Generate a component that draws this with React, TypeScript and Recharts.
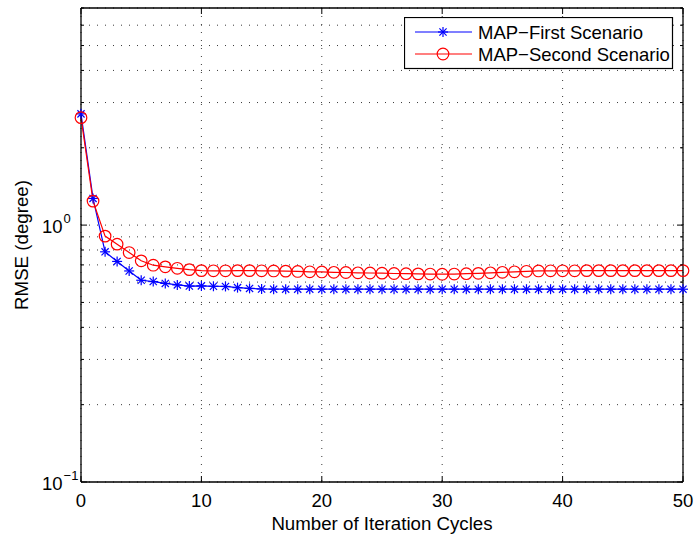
import React from "react";
import { LineChart, Line, XAxis, YAxis, CartesianGrid, Legend } from "recharts";

const FONT = "'Liberation Sans', Arial, Helvetica, sans-serif";
const BLUE = "#0000ff";
const RED = "#ff0000";
const GRID = "#3a3a3a";

// iteration index on the x axis
const cycles = [
  0, 1, 2, 3, 4, 5, 6, 7, 8, 9, 10, 11, 12, 13, 14, 15, 16, 17, 18, 19, 20, 21, 22, 23, 24, 25,
  26, 27, 28, 29, 30, 31, 32, 33, 34, 35, 36, 37, 38, 39, 40, 41, 42, 43, 44, 45, 46, 47, 48, 49, 50,
];

// RMSE (degree)
const firstScenario = [
  2.71, 1.27, 0.787, 0.722, 0.663, 0.61, 0.603, 0.593, 0.585, 0.579, 0.58, 0.578, 0.577, 0.571,
  0.567, 0.564, 0.563, 0.563, 0.563, 0.563, 0.563, 0.563, 0.563, 0.563, 0.563, 0.563, 0.563,
  0.563, 0.563, 0.563, 0.563, 0.563, 0.563, 0.563, 0.563, 0.563, 0.563, 0.563, 0.563, 0.563,
  0.563, 0.563, 0.563, 0.563, 0.563, 0.563, 0.563, 0.563, 0.563, 0.563, 0.563,
];
const secondScenario = [
  2.62, 1.24, 0.906, 0.843, 0.782, 0.726, 0.698, 0.688, 0.679, 0.671, 0.665, 0.664, 0.664, 0.665,
  0.665, 0.664, 0.663, 0.662, 0.66, 0.658, 0.657, 0.655, 0.654, 0.652, 0.651, 0.65, 0.648, 0.647,
  0.646, 0.645, 0.644, 0.645, 0.647, 0.649, 0.652, 0.655, 0.658, 0.661, 0.663, 0.664, 0.664,
  0.664, 0.665, 0.665, 0.665, 0.665, 0.665, 0.665, 0.665, 0.665, 0.665,
];

const xTicks = [0, 10, 20, 30, 40, 50];
const yTicks = [0.1, 0.2, 0.3, 0.4, 0.5, 0.6, 0.7, 0.8, 0.9, 1, 2, 3, 4, 5, 6, 7];
const yExponents: Record<string, string> = { "0.1": "\u22121", "1": "0" };

const rows = cycles.map((c, i) => ({ cycle: c, first: firstScenario[i], second: secondScenario[i] }));

const isMajor = (v: number) => yExponents[String(v)] !== undefined;

const LeftTick = ({ x, y, payload }: any) => {
  const exp = yExponents[String(payload.value)];
  return (
    <g>
      <line x1={x} x2={x + (exp ? 6 : 3)} y1={y} y2={y} stroke="#000" />
      {exp && (
        <text x={x - 39} y={y + 7.5} fontSize={18.5} fontFamily={FONT} fill="#000">
          10
          <tspan dx={1} dy={-10} fontSize={13}>
            {exp}
          </tspan>
        </text>
      )}
    </g>
  );
};

const RightTick = ({ x, y, payload }: any) => (
  <line x1={x} x2={x - (isMajor(payload.value) ? 6 : 3)} y1={y} y2={y} stroke="#000" />
);

const BottomTick = ({ x, y, payload }: any) => (
  <g>
    <line x1={x} x2={x} y1={y} y2={y - 6} stroke="#000" />
    <text x={x} y={y + 25} textAnchor="middle" fontSize={18.5} fontFamily={FONT} fill="#000">
      {payload.value}
    </text>
  </g>
);

const TopTick = ({ x, y }: any) => <line x1={x} x2={x} y1={y} y2={y + 6} stroke="#000" />;

const Star = ({ cx, cy, color }: { cx: number; cy: number; color: string }) => {
  const r = 5;
  const d = r * 0.72;
  return (
    <g stroke={color} strokeWidth={1.2}>
      <line x1={cx - r} x2={cx + r} y1={cy} y2={cy} />
      <line x1={cx} x2={cx} y1={cy - r} y2={cy + r} />
      <line x1={cx - d} x2={cx + d} y1={cy - d} y2={cy + d} />
      <line x1={cx - d} x2={cx + d} y1={cy + d} y2={cy - d} />
    </g>
  );
};

const Ring = ({ cx, cy, color }: { cx: number; cy: number; color: string }) => (
  <circle cx={cx} cy={cy} r={5.8} fill="none" stroke={color} strokeWidth={1.2} />
);

const LegendBox = ({ payload }: any) => {
  const items = (payload || []).filter((p: any) => p.type !== "none");
  return (
    <svg width={270} height={53} style={{ display: "block" }}>
      <rect x={0.5} y={0.5} width={268} height={51} fill="#fff" stroke="#000" strokeWidth={1.2} />
      {items.map((p: any, i: number) => {
        const cy = 15 + i * 22;
        const star = p.dataKey === "first";
        return (
          <g key={p.dataKey}>
            <line x1={11} x2={68} y1={cy} y2={cy} stroke={p.color} strokeWidth={1.2} />
            {star ? <Star cx={39} cy={cy} color={p.color} /> : <Ring cx={39} cy={cy} color={p.color} />}
            <text x={74} y={cy + 6.5} fontSize={18.5} fontFamily={FONT} fill="#000">
              {p.value}
            </text>
          </g>
        );
      })}
    </svg>
  );
};

export default function App() {
  return (
    <div style={{ position: "absolute", left: 0, top: 0, background: "#fff" }}>
      <LineChart
        width={696}
        height={535}
        data={rows}
        margin={{ top: 7, right: 12, bottom: 0, left: 0 }}
        style={{ fontFamily: FONT }}
      >
        <CartesianGrid
          xAxisId="b"
          yAxisId="l"
          stroke={GRID}
          strokeDasharray="1 7"
          strokeWidth={1}
        />
        <XAxis
          xAxisId="b"
          dataKey="cycle"
          type="number"
          domain={[0, 50]}
          ticks={xTicks}
          height={53}
          tickSize={0}
          tickMargin={0}
          tickLine={false}
          axisLine={{ stroke: "#000", strokeWidth: 1.3 }}
          tick={<BottomTick />}
          interval={0}
          label={{
            value: "Number of Iteration Cycles",
            position: "insideBottom",
            offset: 5,
            style: { fontSize: 18.7, fill: "#000", fontFamily: FONT },
          }}
        />
        <XAxis
          xAxisId="t"
          orientation="top"
          dataKey="cycle"
          type="number"
          domain={[0, 50]}
          ticks={xTicks}
          height={1}
          tickSize={0}
          tickMargin={0}
          tickLine={false}
          axisLine={{ stroke: "#000", strokeWidth: 1.3 }}
          tick={<TopTick />}
          interval={0}
        />
        <YAxis
          yAxisId="l"
          scale="log"
          type="number"
          domain={[0.1, 7]}
          allowDataOverflow
          ticks={yTicks}
          width={81}
          tickSize={0}
          tickMargin={0}
          tickLine={false}
          axisLine={{ stroke: "#000", strokeWidth: 1.3 }}
          tick={<LeftTick />}
          interval={0}
          label={{
            value: "RMSE (degree)",
            angle: -90,
            position: "insideLeft",
            offset: 21,
            style: { fontSize: 18.7, fill: "#000", fontFamily: FONT, textAnchor: "middle" },
          }}
        />
        <YAxis
          yAxisId="r"
          orientation="right"
          scale="log"
          type="number"
          domain={[0.1, 7]}
          allowDataOverflow
          ticks={yTicks}
          width={1}
          tickSize={0}
          tickMargin={0}
          tickLine={false}
          axisLine={{ stroke: "#000", strokeWidth: 1.3 }}
          tick={<RightTick />}
          interval={0}
        />
        <Legend
          layout="vertical"
          align="center"
          verticalAlign="middle"
          content={<LegendBox />}
          wrapperStyle={{ position: "absolute", left: 404, top: 17, width: 270, height: 53 }}
        />
        <Line
          xAxisId="t"
          yAxisId="r"
          dataKey="first"
          stroke="none"
          dot={false}
          activeDot={false}
          legendType="none"
          isAnimationActive={false}
        />
        <Line
          xAxisId="b"
          yAxisId="l"
          dataKey="first"
          name={"MAP\u2212First Scenario"}
          type="linear"
          stroke={BLUE}
          strokeWidth={1.2}
          dot={(p: any) => <Star key={`s${p.index}`} cx={p.cx} cy={p.cy} color={BLUE} />}
          activeDot={false}
          isAnimationActive={false}
        />
        <Line
          xAxisId="b"
          yAxisId="l"
          dataKey="second"
          name={"MAP\u2212Second Scenario"}
          type="linear"
          stroke={RED}
          strokeWidth={1.2}
          dot={(p: any) => <Ring key={`c${p.index}`} cx={p.cx} cy={p.cy} color={RED} />}
          activeDot={false}
          isAnimationActive={false}
        />
      </LineChart>
    </div>
  );
}
